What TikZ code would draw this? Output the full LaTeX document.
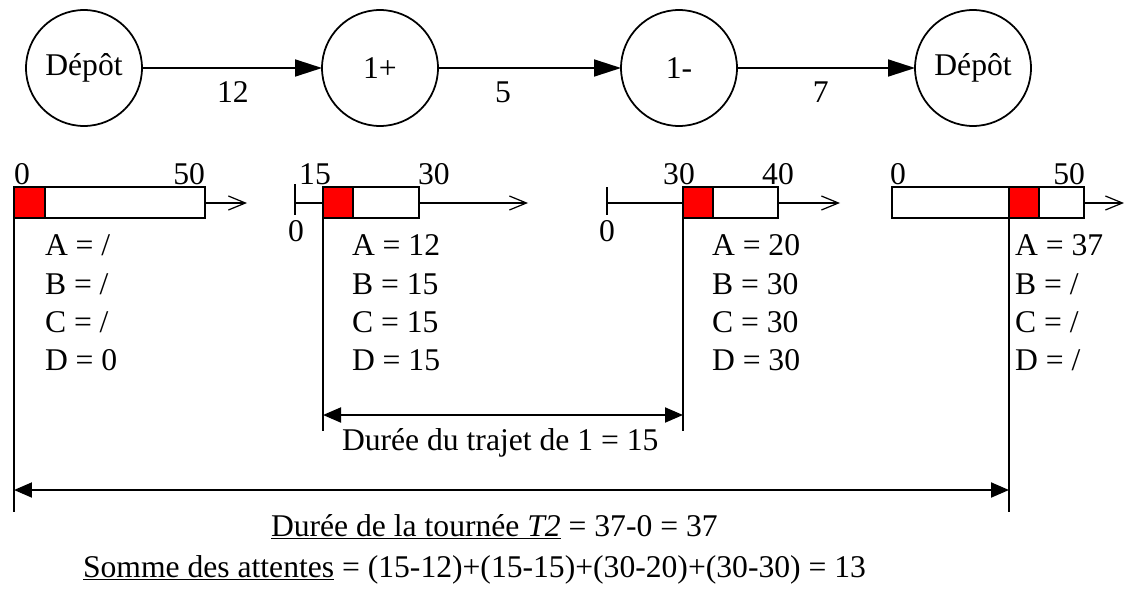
\documentclass[tikz,border=0pt]{standalone}
\usepackage{fontspec}
\setmainfont{Liberation Serif}
\usetikzlibrary{arrows.meta}
\begin{document}
\begin{tikzpicture}[x=0.02cm,y=-0.02cm,
  every node/.style={font=\fontsize{18}{21}\selectfont, inner sep=0pt, outer sep=0pt},
  stop/.style={draw, circle, line width=1pt, minimum size=2.32cm},
  edgearrow/.style={line width=1pt, -{Triangle[length=0.54cm,width=0.34cm]}},
  barbox/.style={draw, line width=0.7pt, fill=white},
  waitbox/.style={draw, line width=0.7pt, fill=red},
  timeaxis/.style={line width=0.7pt, -{Straight Barb[length=0.34cm,width=0.28cm]}},
  tickline/.style={line width=0.7pt},
  refline/.style={line width=0.8pt},
  dimarrow/.style={line width=1.1pt, {Triangle[length=0.36cm,width=0.3cm]}-{Triangle[length=0.36cm,width=0.3cm]}},
  val/.style={anchor=base west},
  num/.style={anchor=base}
]
\useasboundingbox (0,0) rectangle (1124,588);

% --- route nodes ---
\node[stop] (d0) at (84,68) {Dépôt};
\node[stop] (p1) at (380,68) {1+};
\node[stop] (m1) at (679,68) {1-};
\node[stop] (d1) at (973,68) {Dépôt};
\draw[edgearrow] (d0) -- node[pos=0.505, below=0.27cm] (l12) {12} (p1);
\draw[edgearrow] (p1) -- node[pos=0.355, below=0.27cm] (l5) {5} (m1);
\draw[edgearrow] (m1) -- node[pos=0.47, below=0.27cm] (l7) {7} (d1);

% --- time windows ---
% bar 1 (Depot)
\draw[barbox] (14,187) rectangle (205,218);
\draw[waitbox] (14,187) rectangle (45,218);
\coordinate (a1s) at (205,203);
\coordinate (a1e) at (247,203);
\draw[timeaxis] (a1s) -- (a1e);
\node[anchor=base west] (n10) at (14,184) {0};
\node[anchor=base east] (n150) at (205,184) {50};

% bar 2 (1+)
\coordinate (k2) at (295,184);
\coordinate (k2b) at (295,215);
\draw[tickline] (k2) -- (k2b);
\draw[tickline] (295,203) -- (323,203);
\draw[barbox] (323,187) rectangle (419,218);
\draw[waitbox] (323,187) rectangle (353,218);
\coordinate (a2s) at (419,203);
\coordinate (a2e) at (528,203);
\draw[timeaxis] (a2s) -- (a2e);
\node[num] (n215) at (315,184) {15};
\node[anchor=base west] (n230) at (418,184) {30};
\node[num] (n20) at (296,241) {0};

% bar 3 (1-)
\coordinate (k3) at (607,187);
\coordinate (k3b) at (607,215);
\draw[tickline] (k3) -- (k3b);
\draw[tickline] (607,203) -- (683,203);
\draw[barbox] (683,187) rectangle (778,218);
\draw[waitbox] (683,187) rectangle (713,218);
\coordinate (a3s) at (778,203);
\coordinate (a3e) at (840,203);
\draw[timeaxis] (a3s) -- (a3e);
\node[num] (n330) at (679,184) {30};
\node[num] (n340) at (778,184) {40};
\node[num] (n30) at (607,241) {0};

% bar 4 (Depot)
\draw[barbox] (892,187) rectangle (1084,218);
\draw[line width=1.1pt] (892,187) -- (892,218);
\draw[waitbox] (1009,187) rectangle (1039,218);
\coordinate (a4s) at (1084,203);
\coordinate (a4e) at (1124,203);
\draw[timeaxis] (a4s) -- (a4e);
\node[anchor=base west] (n40) at (890,184) {0};
\node[anchor=base east] (n450) at (1085,184) {50};

% --- reference lines ---
\coordinate (r1t) at (14,218);   \coordinate (r1b) at (14,512);
\coordinate (r2t) at (323,218);  \coordinate (r2b) at (323,431);
\coordinate (r3t) at (683,218);  \coordinate (r3b) at (683,431);
\coordinate (r4t) at (1009,218); \coordinate (r4b) at (1009,512);
\draw[refline] (r1t) -- (r1b);
\draw[refline] (r2t) -- (r2b);
\draw[refline] (r3t) -- (r3b);
\draw[refline] (r4t) -- (r4b);

% --- values ---
\node[val] (v1a) at (45,255) {A = /};
\node[val] (v1b) at (45,294) {B = /};
\node[val] (v1c) at (45,332) {C = /};
\node[val] (v1d) at (45,370) {D = 0};

\node[val] (v2a) at (352,255) {A = 12};
\node[val] (v2b) at (352,294) {B = 15};
\node[val] (v2c) at (352,332) {C = 15};
\node[val] (v2d) at (352,370) {D = 15};

\node[val] (v3a) at (712,255) {A = 20};
\node[val] (v3b) at (712,294) {B = 30};
\node[val] (v3c) at (712,332) {C = 30};
\node[val] (v3d) at (712,370) {D = 30};

\node[val] (v4a) at (1015,255) {A = 37};
\node[val] (v4b) at (1015,294) {B = /};
\node[val] (v4c) at (1015,332) {C = /};
\node[val] (v4d) at (1015,370) {D = /};

% --- durations ---
\coordinate (ys) at (0,415);
\coordinate (yl) at (0,490);
\draw[dimarrow] (r2t |- ys) -- (r3t |- ys);
\draw[dimarrow] (r1t |- yl) -- (r4t |- yl);
\node[anchor=base west] (t1) at (342,450) {Durée du trajet de 1 = 15};
\node[anchor=base west] (t2) at (271,536) {\underline{Durée de la tournée \textit{T2}} = 37-0 = 37};
\node[anchor=base west] (t3) at (83,577) {\underline{Somme des attentes} = (15-12)+(15-15)+(30-20)+(30-30) = 13};
\end{tikzpicture}
\end{document}
